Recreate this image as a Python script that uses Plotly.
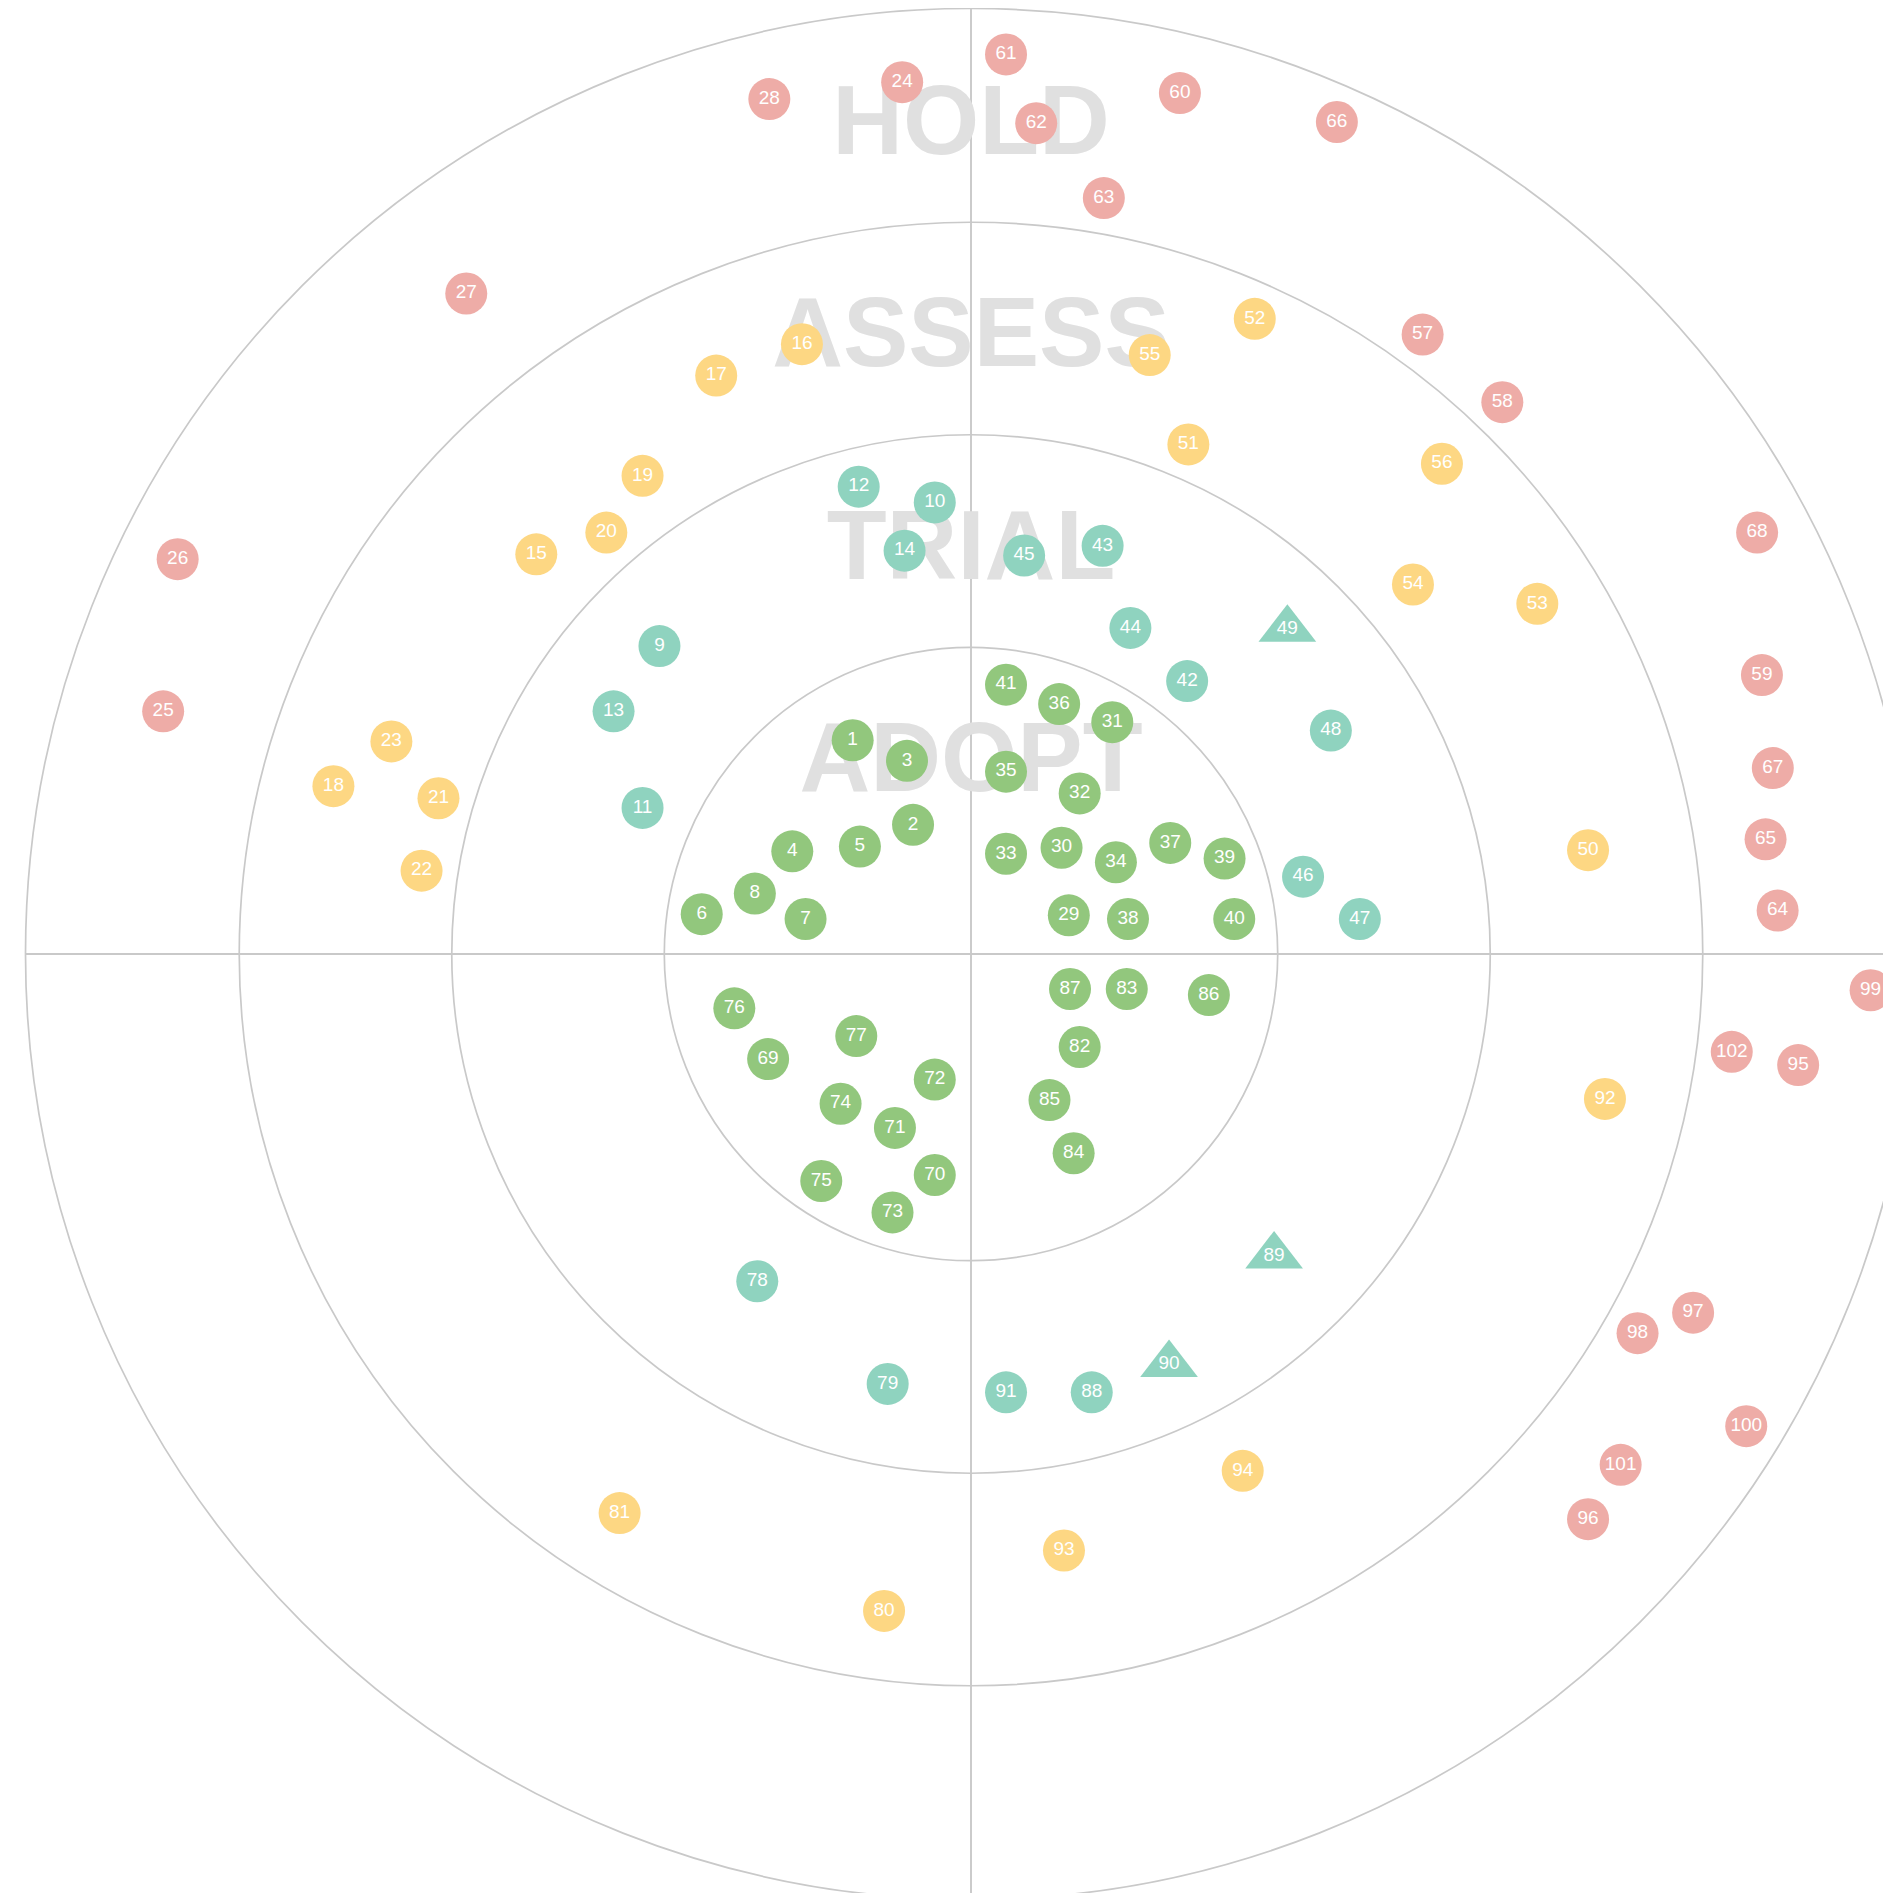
import plotly.graph_objects as go

# Radar geometry (units: radar units, centre at 0,0)
RING_NAMES = ["ADOPT", "TRIAL", "ASSESS", "HOLD"]
RING_RADII = [254, 430, 606, 783]
RING_LABEL_Y = [155, 331, 507, 683]
RING_COLORS = ["#92c77d", "#8fd3bf", "#fdd783", "#eeaca7"]

# Blips: id, x, y (radar units, y upward from centre)
adopt_ids = [1, 3, 2, 4, 5, 8, 6, 7, 41, 36, 31, 35, 32, 33, 30, 34, 37, 39, 29, 38, 40,
             87, 83, 86, 82, 85, 84, 76, 77, 69, 72, 74, 71, 70, 75, 73]
adopt_x = [-98, -53, -48, -148, -92, -179, -223, -137, 29, 73, 117, 29, 90, 29, 75, 120, 165, 210, 81, 130, 218,
           82, 129, 197, 90, 65, 85, -196, -95, -168, -30, -108, -63, -30, -124, -65]
adopt_y = [177, 160, 107, 85, 89, 50, 33, 29, 223, 207, 192, 151, 133, 83, 88, 76, 92, 79, 32, 29, 29,
           -29, -29, -34, -77, -121, -165, -45, -68, -87, -104, -124, -144, -183, -188, -214]

trial_ids = [12, 10, 14, 45, 43, 9, 44, 42, 13, 48, 11, 46, 47, 78, 79, 91, 88]
trial_x = [-93, -30, -55, 44, 109, -258, 132, 179, -296, 298, -272, 275, 322, -177, -69, 29, 100]
trial_y = [387, 374, 334, 330, 338, 255, 270, 226, 201, 185, 121, 64, 29, -271, -356, -363, -363]

trial_new_ids = [49, 89, 90]
trial_new_x = [262, 251, 164]
trial_new_y = [269, -250, -340]

assess_ids = [16, 55, 52, 17, 51, 56, 19, 20, 15, 54, 53, 23, 18, 21, 22, 50, 92, 94, 93, 81, 80]
assess_x = [-140, 148, 235, -211, 180, 390, -272, -302, -360, 366, 469, -480, -528, -441, -455, 511, 525, 225, 77, -291, -72]
assess_y = [505, 496, 526, 479, 422, 406, 396, 349, 331, 306, 290, 176, 139, 129, 69, 86, -120, -428, -494, -463, -544]

hold_ids = [24, 28, 61, 62, 60, 66, 63, 27, 57, 58, 26, 25, 68, 59, 67, 65, 64, 99, 102, 95, 97, 98, 100, 101, 96]
hold_x = [-57, -167, 29, 54, 173, 303, 110, -418, 374, 440, -657, -669, 651, 655, 664, 658, 668, 745, 630, 685, 598, 552, 642, 538, 511]
hold_y = [722, 708, 745, 688, 713, 689, 626, 547, 513, 457, 327, 201, 349, 231, 154, 95, 36, -30, -81, -92, -297, -314, -391, -423, -468]

# Page / scale (page body has an 8px margin)
PAGE_MARGIN = 8
W, H = 1891 - PAGE_MARGIN, 1893 - PAGE_MARGIN
K = 1891 / 1566                 # pixels per radar unit
CX_PX, CY_PX = 971 - PAGE_MARGIN, 954 - PAGE_MARGIN   # centre in plot pixels
x_range = [-CX_PX / K, (W - CX_PX) / K]
y_range = [-(H - CY_PX) / K, CY_PX / K]

GRID = "#c9c9c9"
shapes = []
for r in RING_RADII:
    shapes.append(dict(type="circle", xref="x", yref="y", x0=-r, x1=r, y0=-r, y1=r,
                       line=dict(color=GRID, width=1.7), layer="below"))
R = RING_RADII[-1]
shapes.append(dict(type="line", xref="x", yref="y", x0=-R, x1=R, y0=0, y1=0,
                   line=dict(color=GRID, width=1.9), layer="below"))
shapes.append(dict(type="line", xref="x", yref="y", x0=0, x1=0, y0=-R, y1=R,
                   line=dict(color=GRID, width=1.9), layer="below"))

fig = go.Figure()

# Ring labels (as a text trace so blips sit on top)
fig.add_trace(go.Scatter(
    x=[0] * 4, y=RING_LABEL_Y, mode="text", text=RING_NAMES,
    textfont=dict(family="Liberation Sans, Arial, sans-serif", size=98, color="#e0e0e0", weight="bold"),
    textposition="middle center", hoverinfo="skip", showlegend=False))

FONT = dict(family="Liberation Sans, Arial, sans-serif", size=19, color="white")

def blips(ids, xs, ys, color, symbol="circle", size=42):
    fig.add_trace(go.Scatter(
        x=xs, y=ys, mode="markers+text", text=[str(i) for i in ids],
        textposition="middle center", textfont=FONT,
        marker=dict(color=color, size=size, symbol=symbol, line=dict(width=0)),
        hoverinfo="text", showlegend=False, cliponaxis=False))

blips(hold_ids, hold_x, hold_y, RING_COLORS[3])
blips(assess_ids, assess_x, assess_y, RING_COLORS[2])
blips(trial_ids, trial_x, trial_y, RING_COLORS[1])
blips(trial_new_ids, trial_new_x, trial_new_y, RING_COLORS[1], symbol="triangle-up", size=50)
blips(adopt_ids, adopt_x, adopt_y, RING_COLORS[0])

fig.update_layout(
    width=W, height=H, margin=dict(l=0, r=0, t=0, b=0),
    paper_bgcolor="white", plot_bgcolor="white",
    xaxis=dict(range=x_range, visible=False, fixedrange=True),
    yaxis=dict(range=y_range, visible=False, fixedrange=True),
    shapes=shapes, showlegend=False,
)

fig.write_html("out.html")
